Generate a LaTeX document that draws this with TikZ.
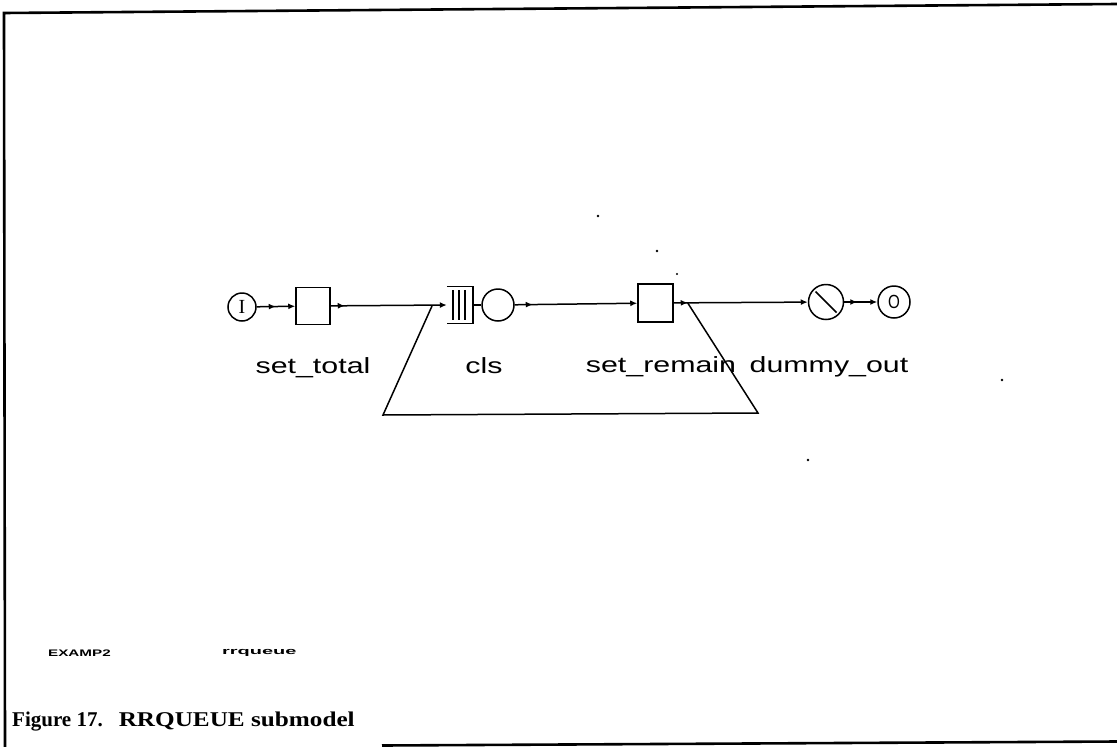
\documentclass[tikz,border=0pt]{standalone}
\usepackage{fontspec}
\setmainfont{Liberation Serif}
\newfontfamily\labfont{Liberation Sans}
\usetikzlibrary{arrows.meta,decorations.markings}
\newcommand{\lb}[1]{\scalebox{1.38}[1]{#1}}
\begin{document}
\begin{tikzpicture}[x=1pt,y=-1pt,
  ln/.style={line width=1.5pt},
  tipa/.tip={Latex[length=7pt,width=6pt]},
  conn/.style={ln,-tipa,postaction={decorate},
    decoration={markings,mark=at position #1 with {\arrow{tipa}}}},
  conn/.default=14pt,
  stn/.style={circle,draw,ln,inner sep=0pt},
  boxn/.style={draw,ln,minimum width=34pt,minimum height=37pt,inner sep=0pt},
  lab/.style={font=\labfont\fontsize{22}{22}\selectfont,inner sep=0pt,anchor=base},
  tiny/.style={font=\labfont\bfseries\fontsize{9.5}{9.5}\selectfont,inner sep=0pt,anchor=west},
  frame/.style={line width=2.6pt},
  speck/.style={fill=black,draw=none}]
\useasboundingbox (0,0) rectangle (1117,747);
% frame
\draw[frame] (1117,4) -- (4,13) -- (5,747);
\draw[frame] (382,745.5) -- (1117,741.5);
% stations
\node[stn,minimum size=28pt] (I) at (242,307) {\fontsize{20}{20}\selectfont I};
\node[boxn] (st) at (313,306) {};
\node[minimum width=26pt,minimum height=37pt,inner sep=0pt] (q) at (460,305) {};
\draw[ln] (q.north west) -- (q.north east) -- (q.south east) -- (q.south west);
\draw[ln] ([xshift=6pt,yshift=-4pt]q.north west) -- ([xshift=6pt,yshift=4pt]q.south west);
\draw[ln] ([xshift=12pt,yshift=-4pt]q.north west) -- ([xshift=12pt,yshift=4pt]q.south west);
\draw[ln] ([xshift=18pt,yshift=-4pt]q.north west) -- ([xshift=18pt,yshift=4pt]q.south west);
\node[stn,minimum size=32pt] (cls) at (498,305) {};
\node[boxn,minimum width=35pt,minimum height=38pt] (sr) at (655.5,303) {};
\node[stn,minimum size=35pt] (d) at (826,302) {};
\draw[ln] ([shift={(-10.5,-10.5)}]d.center) -- ([shift={(10.5,10.5)}]d.center);
\node[stn,minimum size=32pt] (O) at (894,302) {\labfont\fontsize{19}{19}\selectfont\scalebox{0.8}[1]{O}};
% connectors
\draw[conn=19pt] (I) -- (st);
\draw[conn] (st) -- (q.west);
\draw[ln] (q.east) -- (cls.west);
\draw[conn=18pt] (cls) -- (sr);
\draw[conn] (sr) -- (d);
\draw[conn=13pt] (d) -- (O);
% feedback
\coordinate (fb1) at (432,306);
\coordinate (fb2) at ([xshift=14pt]sr.east);
\coordinate (bl) at (383,415);
\coordinate (br) at (758,413);
\draw[ln] (fb2) -- (br) -- (bl) -- (fb1);
% labels
\node[lab] (l1) at (313,373) {\lb{set\_total}};
\node[lab] (l2) at (484,373) {\lb{cls}};
\node[lab] (l3) at (661,372) {\lb{set\_remain}};
\node[lab] (l4) at (829,372) {\lb{dummy\_out}};
% specks
\fill[speck] (598,216) circle (1.4);
\fill[speck] (657,251) circle (1.4);
\fill[speck] (677,274) circle (1.2);
\fill[speck] (1002,380) circle (1.3);
\fill[speck] (808,460) circle (1.3);
% small texts
\node[tiny] (t1) at (48,653) {\scalebox{1.6}[1]{EXAMP2}};
\node[tiny] (t2) at (222,653) {\scalebox{2.1}[1]{rrqueue}};
% caption
\node[font=\bfseries\fontsize{21}{21}\selectfont,inner sep=0pt,anchor=base west] (cap) at (12,726) {Figure 17.\hspace{16pt}\scalebox{1.2}[1]{RRQUEUE submodel}};
\end{tikzpicture}
\end{document}
